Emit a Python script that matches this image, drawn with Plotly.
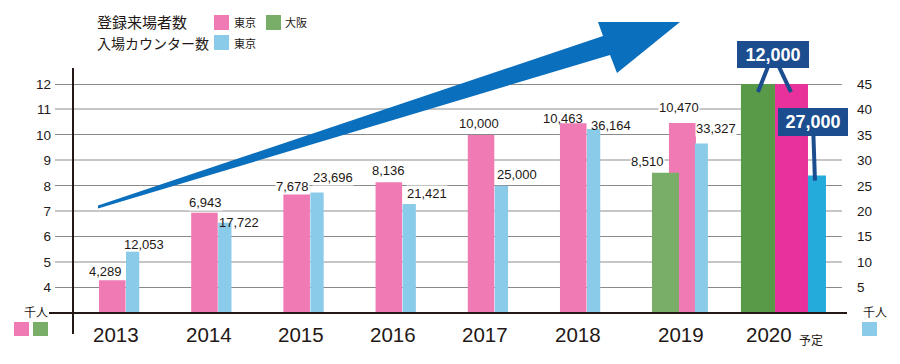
import plotly.graph_objects as go

# ---------------- data ----------------
years = ["2013", "2014", "2015", "2016", "2017", "2018", "2019", "2020"]
tokyo_visitors = [4289, 6943, 7678, 8136, 10000, 10463, 10470, 12000]     # 登録来場者数 東京 (left axis)
osaka_years = ["2019", "2020"]
osaka_visitors = [8510, 12000]                                             # 登録来場者数 大阪 (left axis)
tokyo_counter = [12053, 17722, 23696, 21421, 25000, 36164, 33327, 27000]   # 入場カウンター数 東京 (right axis)
left_ticks = [4, 5, 6, 7, 8, 9, 10, 11, 12]
right_ticks = [5, 10, 15, 20, 25, 30, 35, 40, 45]

# ---------------- layout helpers ----------------
W, H = 900, 364
PL, PR, PT, PB = 55, 842, 0, 313
PX_PER_UNIT = 25.44
Y_RANGE = [3, 3 + (PB - PT) / PX_PER_UNIT]
Y2_RANGE = [0, 5 * (PB - PT) / PX_PER_UNIT]
X_RANGE = [-0.694, 7.842]

TXT = "#231815"
FONT = "Liberation Sans"
JP = "Noto Sans CJK JP"
PINK, PINK20 = "#ef7ab4", "#e8319a"
GREEN, GREEN20 = "#79ae69", "#589a47"
BLUE, BLUE20 = "#8acbe9", "#24aadb"
NAVY = "#1c4e8f"


def px(x, y):
    return (x - PL) / (PR - PL), (PB - y) / (PB - PT)


def cat(yr):
    return years.index(yr)


# bar geometry (category units)
pink_off = [-0.217] * 6 + [-0.035, 0.115]
pink_w = [0.288] * 6 + [0.293, 0.358]
green_off = [-0.219, -0.254]
green_w = [0.293, 0.369]
blue_off = [0.076] * 6 + [0.247, 0.473]
blue_w = [0.144] * 6 + [0.141, 0.195]

fig = go.Figure()
fig.add_trace(go.Bar(x=years, y=[v / 1000 for v in tokyo_visitors], yaxis="y",
                     offset=pink_off, width=pink_w,
                     marker=dict(color=[PINK] * 7 + [PINK20], line=dict(width=0)),
                     showlegend=False, hoverinfo="skip"))
fig.add_trace(go.Bar(x=osaka_years, y=[v / 1000 for v in osaka_visitors], yaxis="y",
                     offset=green_off, width=green_w,
                     marker=dict(color=[GREEN, GREEN20], line=dict(width=0)),
                     showlegend=False, hoverinfo="skip"))
fig.add_trace(go.Bar(x=years, y=[v / 1000 for v in tokyo_counter], yaxis="y2",
                     offset=blue_off, width=blue_w,
                     marker=dict(color=[BLUE] * 7 + [BLUE20], line=dict(width=0)),
                     showlegend=False, hoverinfo="skip"))
# carriers for the two grid layers
fig.add_trace(go.Scatter(x=[years[0]], y=[None], yaxis="y3", showlegend=False, hoverinfo="skip"))
fig.add_trace(go.Scatter(x=[years[0]], y=[None], yaxis="y4", showlegend=False, hoverinfo="skip"))

ann = []
shapes = []

# value labels
pink_shift = [(-13.5, 9, True), (-5.7, 9.7, True), (-10.9, 7.5, True), (-7.1, 11.8, True),
              (-8.3, 11.4, True), (-17, 4.6, False), (7.3, 15, True)]
for yr, v, (xs, ys, bg) in zip(years, tokyo_visitors, pink_shift):
    ann.append(dict(x=cat(yr), y=v / 1000, xref="x", yref="y", xshift=xs, yshift=ys, text=f"{v:,}",
                    showarrow=False, font=dict(family=FONT, size=13, color=TXT),
                    bgcolor="white" if bg else "rgba(0,0,0,0)", borderpad=0))
green_shift = [(-24.2, 11.3, True)]
for yr, v, (xs, ys, bg) in zip(osaka_years, osaka_visitors, green_shift):
    ann.append(dict(x=cat(yr), y=v / 1000, xref="x", yref="y", xshift=xs, yshift=ys, text=f"{v:,}",
                    showarrow=False, font=dict(family=FONT, size=13, color=TXT),
                    bgcolor="white" if bg else "rgba(0,0,0,0)", borderpad=0))
blue_shift = [(25, 7.1, False), (28.3, 0, False), (29.6, 15, True), (31.9, 10.5, True),
              (29.7, 11.8, True), (31.5, 3.5, False), (44.3, 15.4, True)]
for yr, v, (xs, ys, bg) in zip(years, tokyo_counter, blue_shift):
    ann.append(dict(x=cat(yr), y=v / 1000, xref="x", yref="y2", xshift=xs, yshift=ys, text=f"{v:,}",
                    showarrow=False, font=dict(family=FONT, size=13, color=TXT),
                    bgcolor="white" if bg else "rgba(0,0,0,0)", borderpad=0))

# 2020 callouts
ann.append(dict(x=cat(years[-1]), y=tokyo_visitors[-1] / 1000, xref="x", yref="y", xshift=26.6, yshift=-8,
                text=" ", showarrow=True, arrowhead=0, arrowwidth=4, arrowcolor=NAVY,
                ax=-18, ay=-38, standoff=0))
ann.append(dict(x=cat(osaka_years[-1]), y=osaka_visitors[-1] / 1000, xref="x", yref="y", xshift=-6.4, yshift=-8,
                text=f"<b>{osaka_visitors[-1]:,}</b>", showarrow=True, arrowhead=0, arrowwidth=4,
                arrowcolor=NAVY, ax=15, ay=-38, standoff=0,
                font=dict(family=FONT, size=18, color="white"),
                bgcolor=NAVY, bordercolor=NAVY, borderwidth=1, borderpad=0, width=70, height=25))
ann.append(dict(x=cat(years[-1]), y=tokyo_counter[-1] / 1000, xref="x", yref="y2", xshift=50.6, yshift=-5,
                text=f"<b>{tokyo_counter[-1]:,}</b>", showarrow=True, arrowhead=0, arrowwidth=4,
                arrowcolor=NAVY, ax=-2, ay=-58.6, standoff=0,
                font=dict(family=FONT, size=18, color="white"),
                bgcolor=NAVY, bordercolor=NAVY, borderwidth=1, borderpad=0, width=68, height=26))

# year labels
year_shift = [-3, -2.2, -2.4, -2.6, -2.8, -2, 8.8, 4.6]
yl = px(0, 334)[1]
for yr, xs in zip(years, year_shift):
    ann.append(dict(x=cat(yr), y=yl, xref="x", yref="paper", xshift=xs, text=yr, showarrow=False,
                    yanchor="middle", font=dict(family=FONT, size=20.5, color=TXT)))


def txt(x, y, t, size, anchor="left", family=JP):
    a, b = px(x, y)
    ann.append(dict(x=a, y=b, xref="paper", yref="paper", text=t, showarrow=False,
                    xanchor=anchor, yanchor="middle", font=dict(family=family, size=size, color=TXT)))

txt(810.5, 340, "予定", 12, "center")
txt(35.5, 311, "千人", 12, "center")
txt(874.5, 311, "千人", 12, "center")
# legend
txt(95, 21.5, "登録来場者数", 15)
txt(95, 43.5, "入場カウンター数", 14)
txt(232, 22.5, "東京", 11)
txt(283, 22.5, "大阪", 11)
txt(232, 42.5, "東京", 11)


def rect(x0, y0, x1, y1, color):
    a0, b0 = px(x0, y0)
    a1, b1 = px(x1, y1)
    shapes.append(dict(type="rect", xref="paper", yref="paper", x0=a0, y0=b0, x1=a1, y1=b1,
                       fillcolor=color, line=dict(width=0), layer="above"))

rect(214, 15, 229, 30, PINK)
rect(266, 15, 281, 30, GREEN)
rect(214, 35, 229, 50, BLUE)
rect(14, 322, 29, 336, PINK)
rect(33, 322, 48, 336, GREEN)
rect(862, 322, 877, 336, BLUE)


def line(x0, y0, x1, y1, w):
    a0, b0 = px(x0, y0)
    a1, b1 = px(x1, y1)
    shapes.append(dict(type="line", xref="paper", yref="paper", x0=a0, y0=b0, x1=a1, y1=b1,
                       line=dict(color=TXT, width=w), layer="above"))

line(49, 313, 847, 313, 2)
line(73, 68, 73, 334, 2)

# big trend arrow
pts = [(98, 205.5), (603, 36), (598, 22), (680, 22), (617, 73), (610, 55), (98, 208.5)]
path = "M " + " L ".join(f"{px(x, y)[0]:.5f},{px(x, y)[1]:.5f}" for x, y in pts) + " Z"
shapes.append(dict(type="path", xref="paper", yref="paper", path=path,
                   fillcolor="#0a6fbd", line=dict(width=0), layer="above"))

fig.update_layout(
    width=W, height=H,
    margin=dict(l=PL, r=W - PR, t=PT, b=H - PB, autoexpand=False),
    paper_bgcolor="white", plot_bgcolor="white",
    barmode="overlay", showlegend=False, hovermode=False,
    xaxis=dict(type="category", range=X_RANGE, showticklabels=False, showgrid=False,
               zeroline=False, showline=False, ticks=""),
    yaxis=dict(range=Y_RANGE, tickvals=left_ticks, showgrid=False, zeroline=False,
               ticks="", ticklabelstandoff=3, tickfont=dict(family=FONT, size=13.5, color=TXT)),
    yaxis2=dict(range=Y2_RANGE, overlaying="y", side="right", tickvals=right_ticks,
                showgrid=False, zeroline=False, ticks="", ticklabelstandoff=14,
                tickfont=dict(family=FONT, size=13.5, color=TXT)),
    yaxis3=dict(range=Y_RANGE, overlaying="y", tickvals=[4, 6, 8, 10, 12], showticklabels=False,
                showgrid=True, gridcolor="#8a8a8a", gridwidth=1, zeroline=False, ticks=""),
    yaxis4=dict(range=Y_RANGE, overlaying="y", tickvals=[5, 7, 9, 11], showticklabels=False,
                showgrid=True, gridcolor="#c6c6c6", gridwidth=1.6, zeroline=False, ticks=""),
    annotations=ann,
    shapes=shapes,
)

fig.write_html("out.html", config={"displayModeBar": False},
               post_script="document.body.style.margin='0';")
